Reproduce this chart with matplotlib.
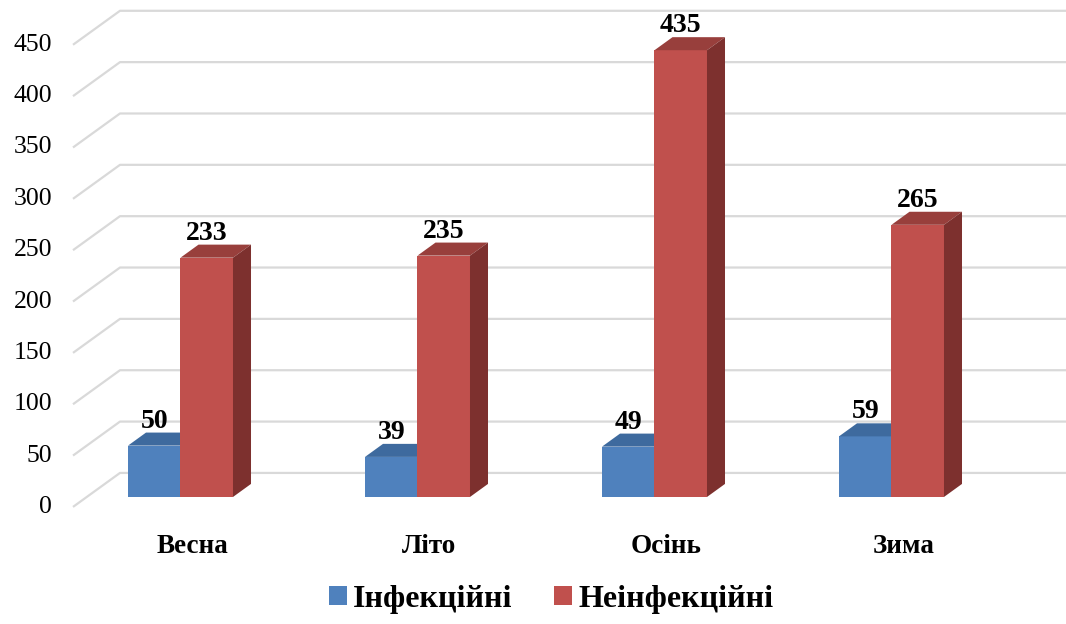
import matplotlib.pyplot as plt
from matplotlib.patches import Polygon, Patch
from matplotlib.font_manager import FontProperties

plt.rcParams['font.family'] = ['Liberation Serif', 'DejaVu Serif']

# data
seasons = ['Весна', 'Літо', 'Осінь', 'Зима']
infectious = [50, 39, 49, 59]
non_infectious = [233, 235, 435, 265]
series_names = ['Інфекційні', 'Неінфекційні']
yticks = [0, 50, 100, 150, 200, 250, 300, 350, 400, 450]

# colours: front, top, side
blue = ('#4F81BD', '#3E6A9E', '#355A87')
red = ('#C0504D', '#983F3C', '#7D302E')
grid_color = '#D9D9D9'

# fake 3d geometry (data units)
bar_w = 0.2215
bar_dx, bar_dy = 0.076, 12.7
grid_front_x, grid_back_x = -0.4536, -0.2553
grid_front_dy, grid_back_dy = -9.7, 23.4


def draw_bar(ax, left, value, cols):
    front, top, side = cols
    r = left + bar_w
    ax.add_patch(Polygon([(left, 0), (r, 0), (r, value), (left, value)],
                         closed=True, fc=front, ec='none', zorder=3))
    ax.add_patch(Polygon([(left, value), (r, value), (r + bar_dx, value + bar_dy),
                          (left + bar_dx, value + bar_dy)],
                         closed=True, fc=top, ec='none', zorder=3))
    ax.add_patch(Polygon([(r, 0), (r + bar_dx, bar_dy), (r + bar_dx, value + bar_dy),
                          (r, value)],
                         closed=True, fc=side, ec='none', zorder=3))
    ax.text(left + bar_w / 2, value + bar_dy + 4.9, str(value), ha='center',
            va='baseline', fontsize=20, fontweight='bold', zorder=4)


fig = plt.figure(figsize=(10.66, 6.24), dpi=100)
ax = fig.add_axes([0, 0, 1, 1])
ax.set_xlim(-0.7616, 3.7363)
ax.set_ylim(-123.7, 483.9)
ax.axis('off')

x_right = ax.get_xlim()[1]
for t in yticks:
    ax.plot([grid_front_x, grid_back_x, x_right],
            [t + grid_front_dy, t + grid_back_dy, t + grid_back_dy],
            color=grid_color, lw=1.6, zorder=1, solid_capstyle='butt')
    ax.text(-0.542, t + grid_front_dy, str(t), ha='right', va='center',
            fontsize=18.5)

for i, name in enumerate(seasons):
    draw_bar(ax, i - bar_w, infectious[i], blue)
    draw_bar(ax, i, non_infectious[i], red)
    ax.text(i + 0.05, -54.5, name, ha='center', va='baseline',
            fontsize=19.5, fontweight='bold')

handles = [Patch(fc=blue[0], ec='none'), Patch(fc=red[0], ec='none')]
legend_font = FontProperties(family='Liberation Serif', size=23, weight='bold')
fig.legend(handles, series_names, loc='center', bbox_to_anchor=(0.517, 0.04),
           ncol=2, frameon=False, handlelength=0.56, handleheight=0.56,
           handletextpad=0.2, columnspacing=1.3, prop=legend_font)

fig.savefig('out.png', dpi=100)
